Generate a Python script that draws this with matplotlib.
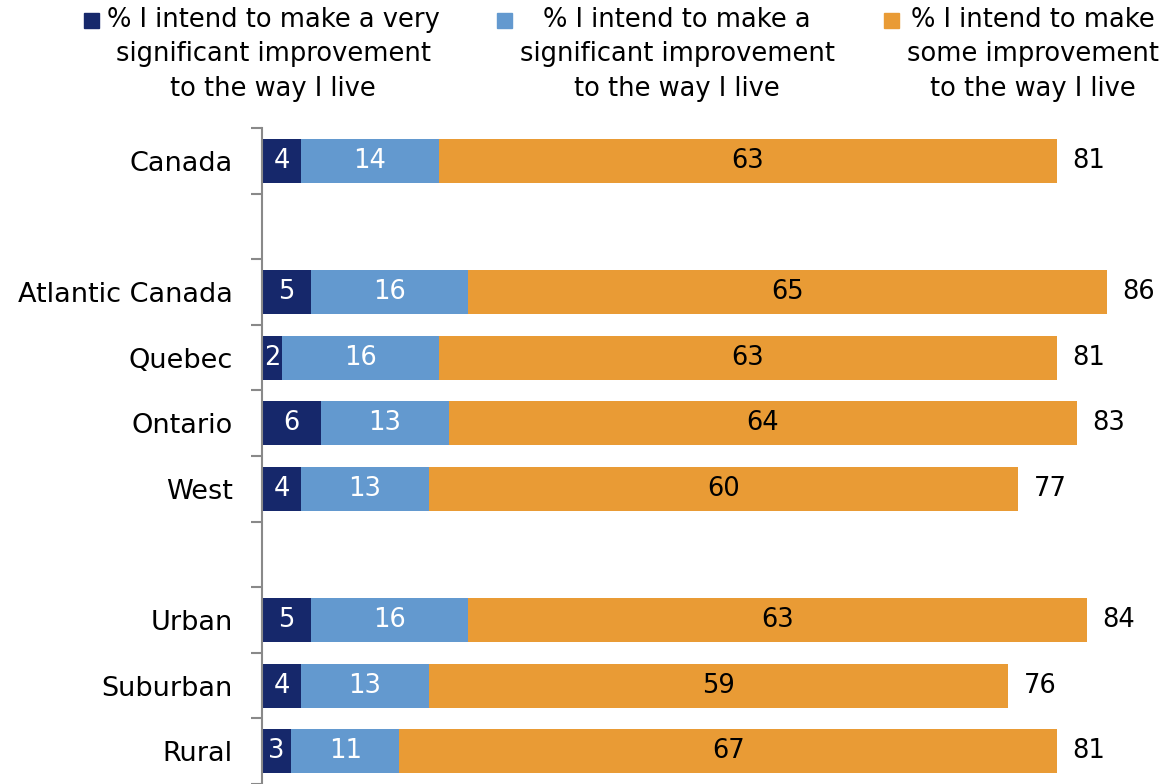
import numpy as np
import matplotlib.pyplot as plt
from matplotlib.patches import Rectangle

# Survey results, grouped (a blank row separates the groups)
groups = [
    ['Canada'],
    ['Atlantic Canada', 'Quebec', 'Ontario', 'West'],
    ['Urban', 'Suburban', 'Rural'],
]
very_significant = [4, 5, 2, 6, 4, 5, 4, 3]
significant = [14, 16, 16, 13, 13, 16, 13, 11]
some = [63, 65, 63, 64, 60, 63, 59, 67]
totals = [81, 86, 81, 83, 77, 84, 76, 81]

series_labels = [
    '% I intend to make a very\nsignificant improvement\nto the way I live',
    '% I intend to make a\nsignificant improvement\nto the way I live',
    '% I intend to make\nsome improvement\nto the way I live',
]
colors = ['#16286B', '#6399CF', '#E99B35']
text_colors = ['white', 'white', 'black']

plt.rcParams['font.family'] = ['DejaVu Sans']

# row positions: one empty slot between groups
categories, rows = [], []
pos = 0
for g in groups:
    for name in g:
        categories.append(name)
        rows.append(pos)
        pos += 1
    pos += 1
n_slots = pos - 1
rows = np.array(rows)

W, H = 1164, 784
fig = plt.figure(figsize=(W / 100, H / 100), dpi=100)
ax = fig.add_axes([262 / W, 0, 1 - 262 / W, 1 - 128 / H])

left = np.zeros(len(categories))
containers = []
for vals, col in zip([very_significant, significant, some], colors):
    c = ax.barh(rows, vals, left=left, height=0.67, color=col, edgecolor='none')
    containers.append(c)
    left = left + np.array(vals)

for c, vals, tc in zip(containers, [very_significant, significant, some], text_colors):
    ax.bar_label(c, labels=[str(v) for v in vals], label_type='center',
                 color=tc, fontsize=18.5)
ax.bar_label(containers[-1], labels=[str(t) for t in totals], padding=11,
             fontsize=18.5, color='black')

ax.set_xlim(0, (W - 262) / 9.82)
ax.set_ylim(n_slots - 0.5, -0.5)

ax.set_yticks(rows)
ax.set_yticklabels(categories, fontsize=19.5)
ax.set_yticks(np.arange(-0.5, n_slots, 1.0), minor=True)
ax.tick_params(axis='y', which='major', length=0, pad=21)
ax.tick_params(axis='y', which='minor', length=8, width=1.5, color='#898989')
ax.set_xticks([])
for s in ['top', 'right', 'bottom']:
    ax.spines[s].set_visible(False)
ax.spines['left'].set_color('#898989')
ax.spines['left'].set_linewidth(1.5)

# legend drawn by hand: centred three-line labels with a square before them
centers = [273, 677, 1033]
texts = []
for cx, lab in zip(centers, series_labels):
    t = fig.text(cx / W, 1 - 7 / H, lab, ha='center', va='top',
                 multialignment='center', fontsize=18.5, linespacing=1.42)
    texts.append(t)
fig.canvas.draw()
renderer = fig.canvas.get_renderer()
for t, col in zip(texts, colors):
    bb = t.get_window_extent(renderer)
    sq = 15
    x1 = bb.x0 - 8
    yc = H - 20
    fig.patches.append(Rectangle(((x1 - sq) / W, (yc - sq / 2) / H), sq / W, sq / H,
                                 transform=fig.transFigure, color=col))

fig.savefig('out.png', dpi=100)
